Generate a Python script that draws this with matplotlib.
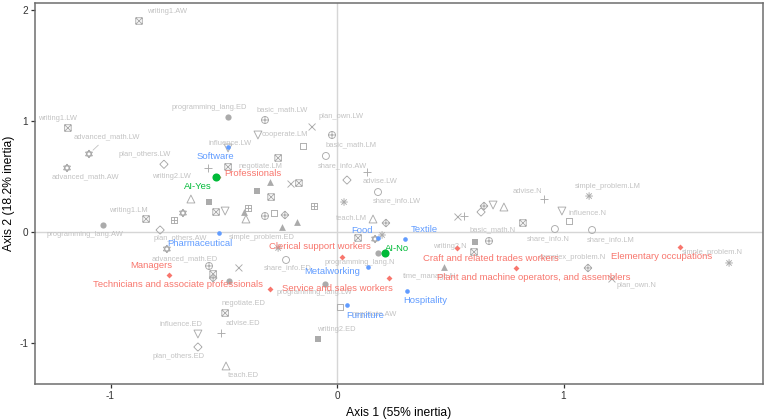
import numpy as np
import matplotlib
matplotlib.use("Agg")
import matplotlib.pyplot as plt
from matplotlib.path import Path

plt.rcParams['font.family'] = ['Liberation Sans', 'DejaVu Sans']

# ---------------- data ----------------
# gray variable categories (name, x, y, shape group); '' = label not shown
cat_names = ['writing1.AW', 'writing1.LW', 'advanced_math.LW', 'advanced_math.AW', 'programming_lang.ED',
             'basic_math.LW', 'cooperate.LM', 'plan_own.LW', 'basic_math.LM', '', '', 'share_info.AW',
             'advise.LW', '', 'share_info.LW', '', 'teach.LM', '', '', '', '', '', '', '', '', '', '', '', '',
             '', '', '', 'programming_lang.N', 'share_info.ED', '', '', '', '', '', '', 'basic_math.N',
             'writing2.N', '', 'time_manage.N', 'advise.N', 'simple_problem.LM', 'influence.N', '', '',
             'share_info.N', 'share_info.LM', 'simple_problem.N', 'complex_problem.N', 'plan_own.N',
             '', '', '', '', '', '', '', '', '', 'writing1.LM', 'programming_lang.AW', 'plan_others.AW',
             'advanced_math.ED', '', '', '', '', '', 'negotiate.ED', 'advise.ED', 'influence.ED',
             'plan_others.ED', 'teach.ED', 'writing2.ED', 'negotiate.AW', 'programming_lang.LW',
             'simple_problem.ED', 'negotiate.LM', 'writing2.LW', 'plan_others.LW', 'influence.LW']
cat_x = [-0.874, -1.188, -1.095, -1.192, -0.481, -0.318, -0.349, -0.110, -0.022, -0.150, -0.260, -0.049,
         0.132, 0.044, 0.181, 0.031, 0.159, 0.216, -0.203, -0.168, -0.296, -0.353, -0.291, -0.102, -0.318,
         -0.278, -0.230, -0.177, -0.243, 0.093, 0.168, 0.199, 0.181, -0.225, 0.534, 0.561, 0.636, 0.649,
         0.689, 0.737, 0.671, 0.609, 0.605, 0.472, 0.914, 1.113, 0.993, 1.024, 0.821, 0.962, 1.126, 1.731,
         1.108, 1.214, -0.645, -0.565, -0.534, -0.494, -0.393, -0.411, -0.402, -0.680, -0.720, -0.843,
         -1.033, -0.781, -0.751, -0.565, -0.433, -0.547, -0.547, -0.477, -0.494, -0.512, -0.614, -0.614,
         -0.490, -0.084, 0.013, -0.053, -0.260, -0.481, -0.570, -0.764, -0.481]
cat_y = [1.901, 0.937, 0.703, 0.577, 1.036, 1.009, 0.874, 0.946, 0.874, 0.775, 0.667, 0.685, 0.541, 0.468,
         0.360, 0.270, 0.117, 0.081, 0.432, 0.441, 0.450, 0.369, 0.315, 0.234, 0.144, 0.171, 0.153, 0.090,
         0.045, -0.054, -0.063, -0.027, -0.189, -0.252, 0.135, 0.144, 0.180, 0.234, 0.243, 0.225, -0.081,
         -0.090, -0.180, -0.315, 0.297, 0.324, 0.189, 0.099, 0.081, 0.027, 0.018, -0.279, -0.324, -0.423,
         0.297, 0.270, 0.180, 0.189, 0.216, 0.180, 0.117, 0.171, 0.108, 0.117, 0.063, 0.018, -0.153,
         -0.306, -0.324, -0.378, -0.414, -0.441, -0.730, -0.910, -0.919, -1.036, -1.207, -0.964, -0.676,
         -0.468, -0.144, 0.586, 0.577, 0.610, 0.757]
cat_shape = ['bx', 'bx', 'hex', 'hex', 'fc', 'cp', 'tv', 'x', 'cp', 'os', 'bx', 'oc', 'plus', 'dm', 'oc',
             'ast', 'ot', 'dp', 'x', 'bx', 'ft', 'fs', 'bx', 'bp', 'cp', 'os', 'dp', 'ft', 'ft', 'bx', 'hex',
             'ast', 'fc', 'oc', 'x', 'plus', 'dm', 'dp', 'tv', 'ot', 'cp', 'fs', 'bx', 'ft', 'plus', 'ast',
             'tv', 'os', 'bx', 'oc', 'oc', 'ast', 'dp', 'x', 'ot', 'fs', 'bx', 'tv', 'bp', 'ft', 'ot', 'hex',
             'bp', 'bx', 'fc', 'dm', 'hex', 'cp', 'x', 'bx', 'dp', 'fc', 'bx', 'plus', 'tv', 'dm', 'ot', 'fs',
             'os', 'fc', 'ast', 'bx', 'plus', 'dm', 'tv']

# supplementary categories
occ_names = ['Professionals', 'Managers', 'Technicians and associate professionals',
             'Clerical support workers', 'Service and sales workers', 'Craft and related trades workers',
             'Plant and machine operators, and assemblers', 'Elementary occupations']
occ_x = [-0.525, -0.740, -0.296, 0.021, 0.231, 0.531, 0.790, 1.514]
occ_y = [0.495, -0.385, -0.514, -0.223, -0.417, -0.147, -0.320, -0.132]

ind_names = ['Software', 'Pharmaceutical', 'Food', 'Textile', 'Metalworking', 'Hospitality', 'Furniture']
ind_x = [-0.483, -0.522, 0.182, 0.302, 0.137, 0.308, 0.044]
ind_y = [0.768, -0.012, -0.057, -0.063, -0.318, -0.532, -0.658]

ai_names = ['AI-Yes', 'AI-No']
ai_x = [-0.536, 0.212]
ai_y = [0.498, -0.192]

xlabel = 'Axis 1 (55% inertia)'
ylabel = 'Axis 2 (18.2% inertia)'

# ---------------- layout (label offsets in pixels, screen: +x right, +y down) ----------------
cat_off = {
    'writing1.AW': (28, -9), 'writing1.LW': (-10, -9), 'advanced_math.LW': (18, -17),
    'advanced_math.AW': (18, 9), 'programming_lang.ED': (-19, -10), 'basic_math.LW': (17, -10),
    'cooperate.LM': (27, 0), 'plan_own.LW': (29, -10), 'basic_math.LM': (19, 10),
    'share_info.AW': (17, 10), 'advise.LW': (13, 10), 'share_info.LW': (19, 9), 'teach.LM': (-22, -1),
    'programming_lang.N': (-18, 10), 'share_info.ED': (2, 8), 'basic_math.N': (4, -11),
    'writing2.N': (-25, 5), 'time_manage.N': (-14, 10), 'advise.N': (-17, -8),
    'simple_problem.LM': (19, -10), 'influence.N': (26, 2), 'share_info.N': (-7, 10),
    'share_info.LM': (19, 10), 'simple_problem.N': (-17, -10), 'complex_problem.N': (-16, -10),
    'plan_own.N': (24, 7), 'writing1.LM': (-18, -9), 'programming_lang.AW': (-18, 9),
    'plan_others.AW': (20, 8), 'advanced_math.ED': (18, 10), 'negotiate.ED': (18, -10),
    'advise.ED': (22, -10), 'influence.ED': (-17, -10), 'plan_others.ED': (-19, 10),
    'teach.ED': (17, 10), 'writing2.ED': (18, -10), 'negotiate.AW': (34, 7),
    'programming_lang.LW': (-11, 9), 'simple_problem.ED': (-16, -10), 'negotiate.LM': (32, 0),
    'writing2.LW': (-36, 9), 'plan_others.LW': (-19, -10), 'influence.LW': (2, -4),
}
seg_labels = {'advanced_math.LW'}
occ_off = [(35, -4), (-18, -9), (-92, -5), (-22, -10), (-52, 10), (34, 10), (18, 10), (-18, 10)]
ind_off = [(-12, 10), (-19, 10), (-16, -8), (19, -9), (-36, 4), (18, 9), (18, 10)]
ai_off = [(-18, 10), (12, -5)]

RED, BLUE, GREEN = '#F8766D', '#619CFF', '#00BA38'
GRAY_PT, GRAY_TXT = '#ababab', '#c2c2c2'


def seg_path(segs, extra=None):
    verts, codes = [], []
    for a, b in segs:
        verts += [a, b]
        codes += [Path.MOVETO, Path.LINETO]
    p = Path(verts, codes)
    if extra is not None:
        p = Path.make_compound_path(extra, p)
    return p


sq = [((-1, -1), (1, -1)), ((1, -1), (1, 1)), ((1, 1), (-1, 1)), ((-1, 1), (-1, -1))]
xx = [((-1, -1), (1, 1)), ((-1, 1), (1, -1))]
pl = [((-1, 0), (1, 0)), ((0, -1), (0, 1))]
dmd = [((0, -1), (1, 0)), ((1, 0), (0, 1)), ((0, 1), (-1, 0)), ((-1, 0), (0, -1))]
r = 0.7071
ast = pl + [((-r, -r), (r, r)), ((-r, r), (r, -r))]


def tri(angles):
    pts = [(np.cos(np.radians(a)), np.sin(np.radians(a))) for a in angles]
    return [(pts[i], pts[(i + 1) % 3]) for i in range(3)]


hexs = tri([90, 210, 330]) + tri([270, 30, 150])

markers = {
    'bx': (seg_path(sq + xx), False, 22),
    'bp': (seg_path(sq + pl), False, 22),
    'cp': (seg_path(pl, Path.unit_circle()), False, 25),
    'dp': (seg_path(dmd + pl), False, 32),
    'hex': (seg_path(hexs), False, 32),
    'ast': (seg_path(ast), False, 30),
    'plus': (seg_path(pl), False, 36),
    'x': (seg_path(xx), False, 25),
    'oc': (Path.unit_circle(), False, 25),
    'os': (seg_path(sq), False, 21),
    'dm': (seg_path(dmd), False, 36),
    'ot': ('^', False, 32),
    'tv': ('v', False, 32),
    'fc': ('o', True, 20),
    'fs': ('s', True, 18),
    'ft': ('^', True, 24),
}

fig = plt.figure(figsize=(7.67, 4.19), dpi=100)
ax = fig.add_axes([35 / 767, 1 - 384 / 419, 728 / 767, 381 / 419])

x0, px_per_x = 337, 226.5
y0, px_per_y = 232, 111
ax.set_xlim((35 - x0) / px_per_x, (763 - x0) / px_per_x)
ax.set_ylim((y0 - 384) / px_per_y, (y0 - 3) / px_per_y)

ax.axhline(0, color='#d6d6d6', lw=1.0, zorder=0)
ax.axvline(0, color='#d6d6d6', lw=1.0, zorder=0)

cat_x_a, cat_y_a = np.array(cat_x), np.array(cat_y)
cat_shape_a = np.array(cat_shape)
for key, (mk, filled, s) in markers.items():
    m = cat_shape_a == key
    if not m.any():
        continue
    if filled:
        ax.scatter(cat_x_a[m], cat_y_a[m], marker=mk, s=s, c=GRAY_PT, linewidths=0, zorder=2)
    else:
        ax.scatter(cat_x_a[m], cat_y_a[m], marker=mk, s=s, facecolors='none',
                   edgecolors=GRAY_PT, linewidths=0.65, zorder=2)

for name, x, y in zip(cat_names, cat_x, cat_y):
    if not name:
        continue
    dx, dy = cat_off.get(name, (0, -10))
    kw = {}
    if name in seg_labels:
        kw['arrowprops'] = dict(arrowstyle='-', color=GRAY_TXT, lw=0.6, shrinkA=2, shrinkB=4)
    ax.annotate(name, (x, y), xytext=(dx, -dy), textcoords='offset pixels', ha='center', va='center',
                fontsize=5.4, color=GRAY_TXT, zorder=3, **kw)

# supplementary points
ax.scatter(occ_x, occ_y, marker='D', s=9, c=RED, linewidths=0, zorder=4)
ax.scatter(ind_x, ind_y, marker='o', s=11, c=BLUE, linewidths=0, zorder=4)
ax.scatter(ai_x, ai_y, marker='o', s=34, c=GREEN, linewidths=0, zorder=5)

for names, xs, ys, offs, col in [(occ_names, occ_x, occ_y, occ_off, RED),
                                  (ind_names, ind_x, ind_y, ind_off, BLUE),
                                  (ai_names, ai_x, ai_y, ai_off, GREEN)]:
    for n, x, y, (dx, dy) in zip(names, xs, ys, offs):
        ax.annotate(n, (x, y), xytext=(dx, -dy), textcoords='offset pixels', ha='center', va='center',
                    fontsize=6.8, color=col, zorder=6)

ax.set_xticks([-1, 0, 1])
ax.set_yticks([-1, 0, 1, 2])
ax.set_xticklabels(['-1', '0', '1'])
ax.set_yticklabels(['-1', '0', '1', '2'])
ax.tick_params(axis='both', length=3, width=0.9, color='#333333', labelcolor='#333333',
               labelsize=7.2, pad=2)
for sp in ax.spines.values():
    sp.set_color('#6e6e6e')
    sp.set_linewidth(1.1)

ax.set_xlabel(xlabel, fontsize=8.7, color='black', labelpad=4)
ax.set_ylabel(ylabel, fontsize=8.7, color='black', labelpad=3)

fig.savefig('out.png', dpi=100)
